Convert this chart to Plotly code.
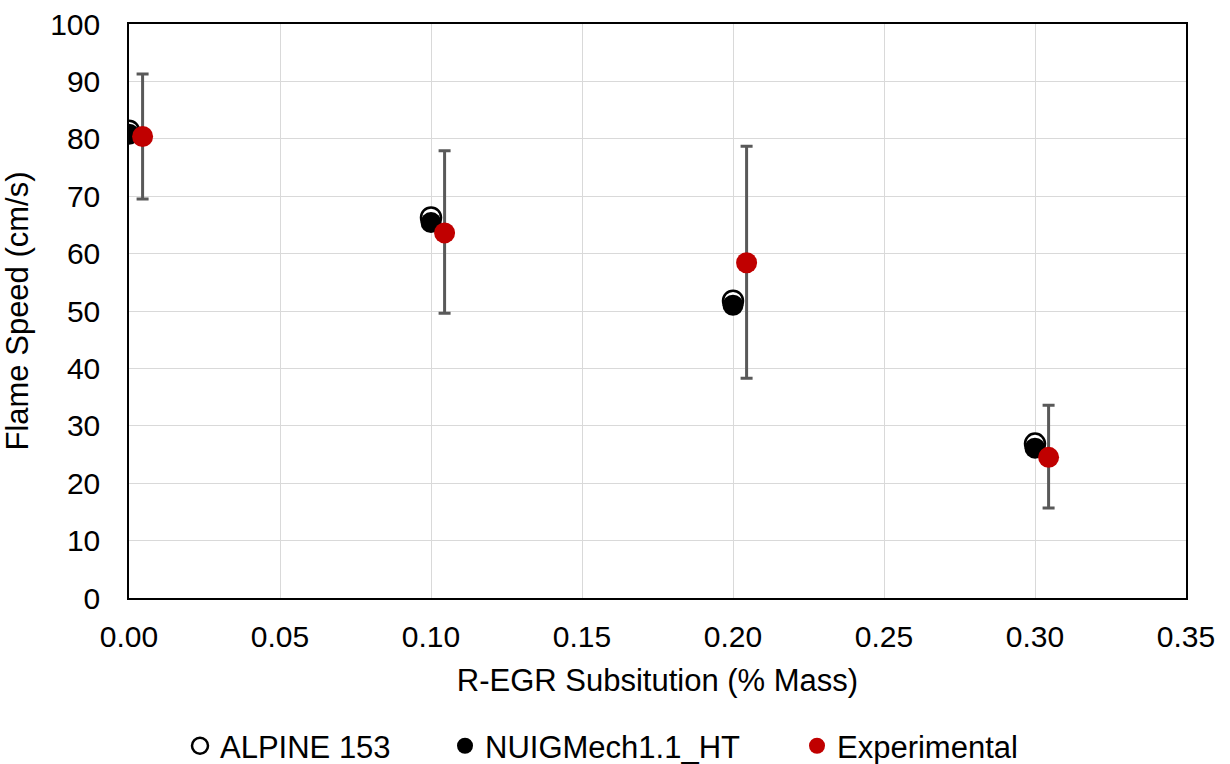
import plotly.graph_objects as go

x_sim = [0.0, 0.1, 0.2, 0.3]
alpine = [81.4, 66.3, 51.8, 26.9]
nuig = [80.8, 65.4, 51.0, 26.1]
x_exp = [0.0045, 0.1045, 0.2045, 0.3045]
exp_y = [80.4, 63.6, 58.4, 24.5]
exp_err_plus = [10.9, 14.3, 20.3, 9.1]
exp_err_minus = [10.9, 14.0, 20.1, 8.8]

FONT = "Liberation Sans, Arial, sans-serif"

fig = go.Figure()
fig.add_trace(go.Scatter(
    x=x_sim, y=alpine, mode="markers", name="ALPINE 153",
    marker=dict(symbol="circle", size=20, color="white", line=dict(color="black", width=2.5)),
    legend="legend", showlegend=True))
fig.add_trace(go.Scatter(
    x=x_sim, y=nuig, mode="markers", name="NUIGMech1.1_HT",
    marker=dict(symbol="circle", size=21, color="black"),
    legend="legend2", showlegend=True))
fig.add_trace(go.Scatter(
    x=x_exp, y=exp_y, mode="markers", name="Experimental",
    marker=dict(symbol="circle", size=21, color="#C00000"),
    error_y=dict(type="data", symmetric=False, array=exp_err_plus, arrayminus=exp_err_minus,
                 color="#595959", thickness=3, width=6),
    legend="legend3", showlegend=True))

legend_common = dict(orientation="h", yanchor="middle", xanchor="left", y=-0.258,
                     font=dict(family=FONT, size=31, color="black"),
                     bgcolor="rgba(0,0,0,0)", itemwidth=30)

fig.update_layout(
    width=1230, height=764,
    margin=dict(l=129, r=44, t=24, b=166, autoexpand=False),
    paper_bgcolor="white", plot_bgcolor="white",
    showlegend=True,
    font=dict(family=FONT, size=30, color="black"),
    legend=dict(x=(180 - 129) / 1057, **legend_common),
    legend2=dict(x=(445 - 129) / 1057, **legend_common),
    legend3=dict(x=(797 - 129) / 1057, **legend_common),
    xaxis=dict(range=[0, 0.35], dtick=0.05, tickformat=".2f", automargin=False,
               showgrid=True, gridcolor="#D9D9D9", gridwidth=1,
               showline=True, linecolor="black", linewidth=1.5, mirror=True,
               zeroline=False, ticks="", ticklabelstandoff=11,
               title=dict(text="R-EGR Subsitution (% Mass)", font=dict(size=31), standoff=18),
               tickfont=dict(size=30)),
    yaxis=dict(range=[0, 100], dtick=10, automargin=False,
               showgrid=True, gridcolor="#D9D9D9", gridwidth=1,
               showline=True, linecolor="black", linewidth=1.5, mirror=True,
               zeroline=False, ticks="", ticklabelstandoff=21,
               title=dict(text="Flame Speed (cm/s)", font=dict(size=31), standoff=15),
               tickfont=dict(size=30)),
)

fig.write_html("out.html")
